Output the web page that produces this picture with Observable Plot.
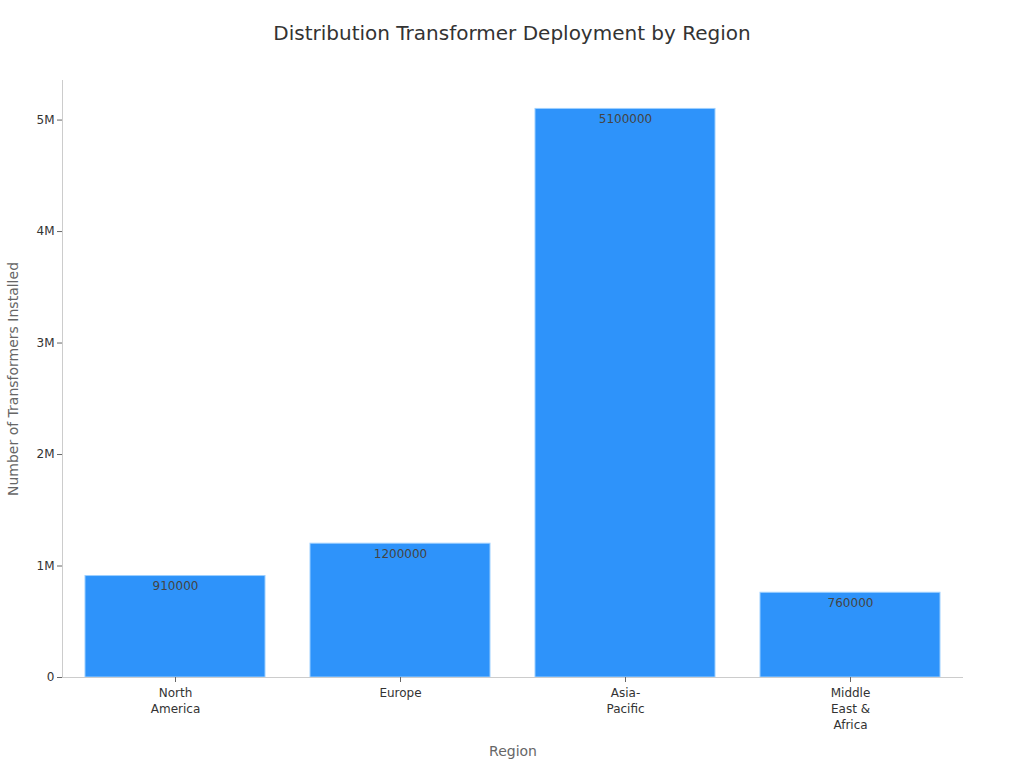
<!DOCTYPE html>
<html>
<head>
<meta charset="utf-8">
<script src="https://cdn.jsdelivr.net/npm/d3@7"></script>
<script src="https://cdn.jsdelivr.net/npm/@observablehq/plot@0.6"></script>
<style>
  html, body { margin: 0; padding: 0; background: #fff; }
  body { width: 1024px; height: 768px; overflow: hidden; font-family: "DejaVu Sans", sans-serif; }
  #title { height: 64px; line-height: 66px; text-align: center; font-size: 20px; color: #333; }
</style>
</head>
<body>
<div id="title">Distribution Transformer Deployment by Region</div>
<div id="chart"></div>
<script>
const regions = ["North America", "Europe", "Asia-Pacific", "Middle East & Africa"];
const regionLabels = ["North\nAmerica", "Europe", "Asia-\nPacific", "Middle\nEast &\nAfrica"];
const installed = [910000, 1200000, 5100000, 760000];
const yTicks = [0, 1000000, 2000000, 3000000, 4000000, 5000000];

const data = regions.map((r, i) => ({region: r, value: installed[i]}));
const labelMap = new Map(regions.map((r, i) => [r, regionLabels[i]]));

const chart = Plot.plot({
  width: 1024,
  height: 704,
  marginTop: 16,
  marginBottom: 91,
  marginLeft: 62,
  marginRight: 61,
  style: {fontFamily: "DejaVu Sans, sans-serif", fontSize: "12px", color: "#333", background: "#fff"},
  x: {domain: regions, paddingInner: 0.2, paddingOuter: 0.1, label: null},
  y: {domain: [0, 5355000], label: null},
  marks: [
    Plot.barY(data, {x: "region", y: "value", fill: "#2E93FA", stroke: "#9ccfff", strokeWidth: 1, inset: 0}),
    Plot.text(data, {x: "region", y: "value", text: d => String(d.value), dy: 10, fill: "#444", fontSize: 12}),
    Plot.ruleY([0], {stroke: "#ccc"}),
    Plot.frame({anchor: "left", stroke: "#ccc"}),
    Plot.axisY({ticks: yTicks, tickFormat: d => d === 0 ? "0" : d3.format("~s")(d), tickSize: 5, tickPadding: 3, stroke: "#666", fill: "#333", fontSize: 12, label: null}),
    Plot.axisX({tickFormat: d => labelMap.get(d), tickSize: 5, tickPadding: 3, stroke: "#666", fill: "#333", fontSize: 12, lineHeight: 1.35, label: null}),
    Plot.text(["Number of Transformers Installed"], {frameAnchor: "left", textAnchor: "middle", dx: -49, rotate: -90, fontSize: 14, fill: "#666"}),
    Plot.text(["Region"], {frameAnchor: "bottom", dy: 78, fontSize: 14, fill: "#666"})
  ]
});
document.getElementById("chart").appendChild(chart);
</script>
</body>
</html>
